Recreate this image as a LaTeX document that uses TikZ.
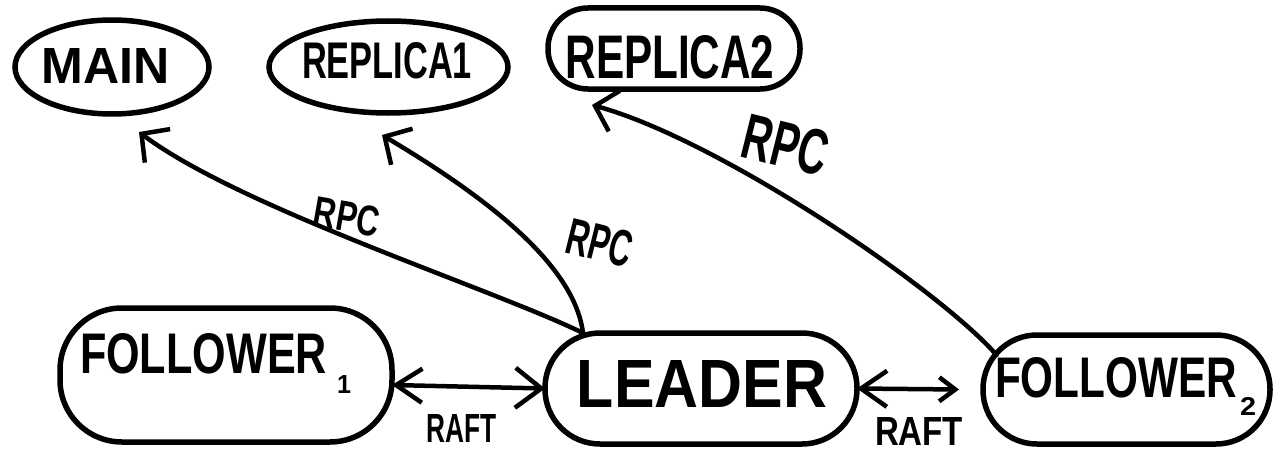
\documentclass[tikz,border=0pt]{standalone}
\usepackage{fontspec}
\setmainfont{Liberation Sans}
\usetikzlibrary{arrows.meta,shapes.geometric}
% hand-lettered word scaled to a given width and height (in pt)
\newcommand\hand[3]{\resizebox{#1pt}{#2pt}{\bfseries #3}}

\begin{document}
\begin{tikzpicture}[x=1pt,y=-1pt,
  outline/.style={draw, line width=5.5pt, inner sep=0pt, outer sep=0pt},
  oval/.style={outline, ellipse},
  pill/.style={outline, rounded corners=#1},
  word/.style={inner sep=0pt, outer sep=0pt},
  link/.style={line width=4.5pt, line cap=round, line join=round},
  rpc/.style={-{Straight Barb[length=20pt,width=42pt]}}]

\fill[white] (0,0) rectangle (1277,452);
\useasboundingbox (0,0) rectangle (1277,452);

% outlines
\node[oval, minimum width=194pt, minimum height=94pt] (main) at (112,67) {};
\node[oval, minimum width=239pt, minimum height=92pt] (rep1) at (388.5,67) {};
\node[pill=40pt, minimum width=252pt, minimum height=81pt] (rep2) at (674,48.5) {};
\node[pill=62pt, minimum width=332pt, minimum height=134pt] (fol1) at (226,375) {};
\node[pill=55pt, minimum width=312pt, minimum height=111pt] (leader) at (701,388.5) {};
\node[pill=54pt, minimum width=287pt, minimum height=109pt] (fol2) at (1126.5,389.5) {};

% names
\node[word] (mainT) at (106,66) {\hand{128}{35}{MAIN}};
\node[word] (rep1T) at (387,61) {\hand{170}{36}{REPLICA1}};
\node[word] (rep2T) at (670,57) {\hand{209}{43}{REPLICA2}};
\node[word, anchor=base west] (fol1T) at (80,373)
  {\hand{247}{40}{FOLLOWER}\hspace{10pt}\raisebox{-20pt}{\hand{14}{18}{1}}};
\node[word] (leaderT) at (702,383.5) {\hand{250}{47}{LEADER}};
\node[word, anchor=base west] (fol2T) at (995,397)
  {\hand{242}{40}{FOLLOWER}\hspace{3pt}\raisebox{-18pt}{\hand{16}{18}{2}}};

% RPC calls
\draw[link, rpc] ([xshift=-118pt]leader.north)
  .. controls (493,289) and (240,208) .. ([xshift=27pt,yshift=-18pt]main.south);
\draw[link, rpc] ([xshift=-118pt]leader.north)
  .. controls (575,270) and (500,205) .. ([xshift=-6.5pt,yshift=-22pt]rep1.south);
\draw[link, rpc] ([xshift=-130pt,yshift=-20pt]fol2.north)
  .. controls (940,290) and (720,140) .. ([xshift=-82pt,yshift=-16pt]rep2.south);

\node[word, rotate=-10] (rpc1) at (347,217) {\hand{66}{30}{RPC}};
\node[word, rotate=-14] (rpc2) at (600,243) {\hand{66}{36}{RPC}};
\node[word, rotate=-14] (rpc3) at (786,145) {\hand{86}{45}{RPC}};

% RAFT links
\draw[link, {Straight Barb[length=26pt,width=34pt]}-{Straight Barb[length=26pt,width=40pt]}]
  ([yshift=-10pt]fol1.east) -- (leader.west);
\draw[link, {Straight Barb[length=26pt,width=36pt]}-{Straight Barb[length=16pt,width=24pt]}]
  (leader.east) -- ([xshift=-24pt]fol2.west);

\node[word] (raft1) at (462,428) {\hand{70}{28}{RAFT}};
\node[word] (raft2) at (919,431) {\hand{88}{28}{RAFT}};

\end{tikzpicture}
\end{document}
